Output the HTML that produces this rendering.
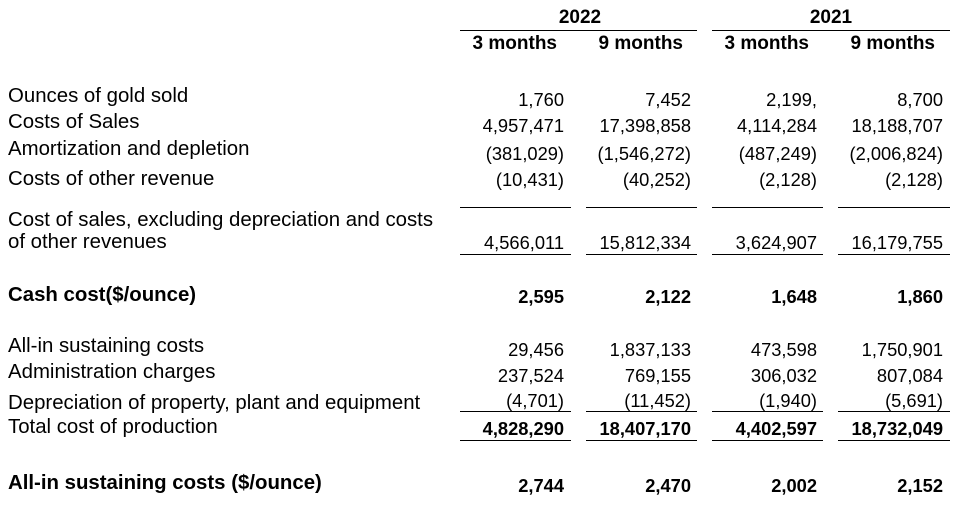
<!DOCTYPE html>
<html><head><meta charset="utf-8"><style>
body{margin:0;width:966px;height:520px;background:#fff;position:relative;font-family:"Liberation Sans",Arial,sans-serif;color:#000;overflow:hidden}
.l{position:absolute;left:8px;font-size:20.4px;line-height:22px;white-space:nowrap}
.v{position:absolute;font-size:18.3px;line-height:20px;text-align:right;white-space:nowrap;width:130px}
.b{font-weight:bold}
.h{position:absolute;height:1px;background:#000}
.c1{left:434px}.c2{left:561px}.c3{left:687px}.c4{left:813px}
.hd{font-size:19px}
</style></head><body>
<div class="v b hd" style="left:515px;width:130px;text-align:center;top:8px">2022</div>
<div class="v b hd" style="left:766px;width:130px;text-align:center;top:8px">2021</div>
<div class="h" style="left:460px;width:237px;top:30px"></div>
<div class="h" style="left:712px;width:238px;top:30px"></div>
<div class="v b hd" style="top:34px;left:427px">3 months</div>
<div class="v b hd" style="top:34px;left:553px">9 months</div>
<div class="v b hd" style="top:34px;left:679px">3 months</div>
<div class="v b hd" style="top:34px;left:805px">9 months</div>

<div class="l" style="top:85px">Ounces of gold sold</div>
<div class="l" style="top:111px">Costs of Sales</div>
<div class="l" style="top:138px">Amortization and depletion</div>
<div class="l" style="top:168px">Costs of other revenue</div>
<div class="l" style="top:209px">Cost of sales, excluding depreciation and costs</div>
<div class="l" style="top:231px">of other revenues</div>
<div class="l b" style="top:284px">Cash cost($/ounce)</div>
<div class="l" style="top:335px">All-in sustaining costs</div>
<div class="l" style="top:361px">Administration charges</div>
<div class="l" style="top:392px">Depreciation of property, plant and equipment</div>
<div class="l" style="top:416px">Total cost of production</div>
<div class="l b" style="top:472px">All-in sustaining costs ($/ounce)</div>

<div class="v c1" style="top:90px">1,760</div><div class="v c2" style="top:90px">7,452</div><div class="v c3" style="top:90px">2,199,</div><div class="v c4" style="top:90px">8,700</div>
<div class="v c1" style="top:116px">4,957,471</div><div class="v c2" style="top:116px">17,398,858</div><div class="v c3" style="top:116px">4,114,284</div><div class="v c4" style="top:116px">18,188,707</div>
<div class="v c1" style="top:144px">(381,029)</div><div class="v c2" style="top:144px">(1,546,272)</div><div class="v c3" style="top:144px">(487,249)</div><div class="v c4" style="top:144px">(2,006,824)</div>
<div class="v c1" style="top:170px">(10,431)</div><div class="v c2" style="top:170px">(40,252)</div><div class="v c3" style="top:170px">(2,128)</div><div class="v c4" style="top:170px">(2,128)</div>
<div class="h" style="left:460px;width:111px;top:207px"></div><div class="h" style="left:586px;width:111px;top:207px"></div><div class="h" style="left:712px;width:111px;top:207px"></div><div class="h" style="left:838px;width:112px;top:207px"></div>
<div class="v c1" style="top:233px">4,566,011</div><div class="v c2" style="top:233px">15,812,334</div><div class="v c3" style="top:233px">3,624,907</div><div class="v c4" style="top:233px">16,179,755</div>
<div class="h" style="left:460px;width:111px;top:254px"></div><div class="h" style="left:586px;width:111px;top:254px"></div><div class="h" style="left:712px;width:111px;top:254px"></div><div class="h" style="left:838px;width:112px;top:254px"></div>
<div class="v b c1" style="top:287px">2,595</div><div class="v b c2" style="top:287px">2,122</div><div class="v b c3" style="top:287px">1,648</div><div class="v b c4" style="top:287px">1,860</div>
<div class="v c1" style="top:340px">29,456</div><div class="v c2" style="top:340px">1,837,133</div><div class="v c3" style="top:340px">473,598</div><div class="v c4" style="top:340px">1,750,901</div>
<div class="v c1" style="top:366px">237,524</div><div class="v c2" style="top:366px">769,155</div><div class="v c3" style="top:366px">306,032</div><div class="v c4" style="top:366px">807,084</div>
<div class="v c1" style="top:391px">(4,701)</div><div class="v c2" style="top:391px">(11,452)</div><div class="v c3" style="top:391px">(1,940)</div><div class="v c4" style="top:391px">(5,691)</div>
<div class="h" style="left:460px;width:111px;top:411px"></div><div class="h" style="left:586px;width:111px;top:411px"></div><div class="h" style="left:712px;width:111px;top:411px"></div><div class="h" style="left:838px;width:112px;top:411px"></div>
<div class="v b c1" style="top:419px">4,828,290</div><div class="v b c2" style="top:419px">18,407,170</div><div class="v b c3" style="top:419px">4,402,597</div><div class="v b c4" style="top:419px">18,732,049</div>
<div class="h" style="left:460px;width:111px;top:440px"></div><div class="h" style="left:586px;width:111px;top:440px"></div><div class="h" style="left:712px;width:111px;top:440px"></div><div class="h" style="left:838px;width:112px;top:440px"></div>
<div class="v b c1" style="top:476px">2,744</div><div class="v b c2" style="top:476px">2,470</div><div class="v b c3" style="top:476px">2,002</div><div class="v b c4" style="top:476px">2,152</div>
</body></html>
